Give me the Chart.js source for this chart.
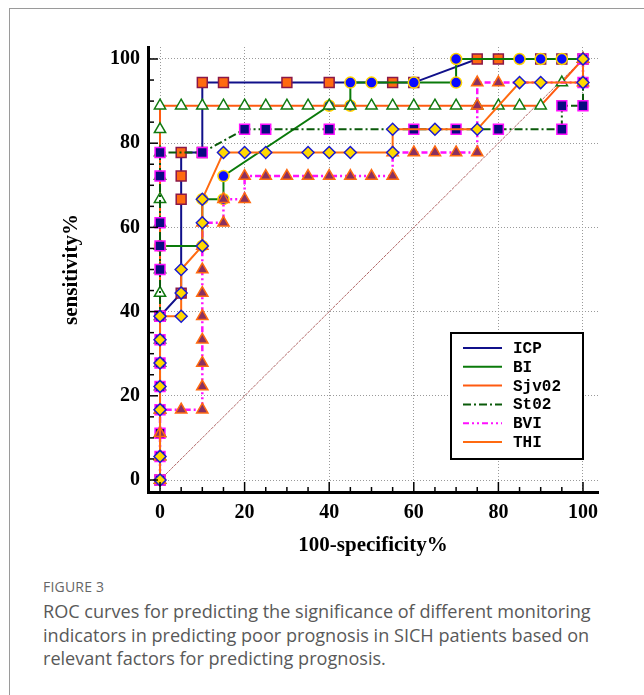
<!DOCTYPE html>
<html>
<head>
<meta charset="utf-8">
<script src="https://cdn.jsdelivr.net/npm/chart.js@4.4.0/dist/chart.umd.min.js"></script>
<style>
html, body { margin: 0; padding: 0; background: #fff; }
#card { position: absolute; left: 9px; top: 8px; width: 700px; height: 720px;
        border-left: 1px solid #9a9a9a; border-top: 1px solid #9a9a9a; }
#wrap { position: absolute; left: 0; top: 0; width: 644px; height: 570px; }
#caption { position: absolute; left: 43px; top: 578px; width: 596px;
           font-family: "Open Sans", sans-serif; color: #595959; }
#caption .fig { font-size: 14px; line-height: 18px; letter-spacing: 0.2px; color: #666; }
#caption .txt { font-size: 18.1px; line-height: 23.5px; margin-top: 4px; }
</style>
</head>
<body>
<div id="card"></div>
<div id="wrap"><canvas id="roc"></canvas></div>
<div id="caption">
  <div class="fig">FIGURE 3</div>
  <div class="txt">ROC curves for predicting the significance of different monitoring indicators in predicting poor prognosis in SICH patients based on relevant factors for predicting prognosis.</div>
</div>
<script>
// axis ticks (percent)
var xTicks = [0, 20, 40, 60, 80, 100];
var yTicks = [0, 20, 40, 60, 80, 100];
var seriesNames = ['ICP', 'BI', 'Sjv02', 'St02', 'BVI', 'THI'];

// 100-specificity (x) and sensitivity (y)
var icpX = [0, 0, 5, 5, 5, 5, 10, 10, 15, 30, 40, 55, 60, 75, 80, 90, 95, 100];
var icpY = [0, 38.9, 44.4, 66.7, 72.2, 77.8, 77.8, 94.4, 94.4, 94.4, 94.4, 94.4, 94.4, 100, 100, 100, 100, 100];

var biX = [0, 0, 10, 10, 15, 15, 40, 45, 45, 50, 60, 70, 70, 85, 90, 95, 100];
var biY = [0, 55.6, 55.6, 66.7, 66.7, 72.2, 88.9, 88.9, 94.4, 94.4, 94.4, 94.4, 100, 100, 100, 100, 100];

var sjvX = [0, 0, 0, 0, 0, 0, 0, 0, 0, 0, 0, 0, 0, 0, 0, 0, 0,
            5, 10, 15, 20, 25, 30, 35, 40, 45, 50, 55, 60, 65, 70, 75, 80, 85, 90, 95, 100];
var sjvY = [0, 5.6, 11.1, 16.7, 22.2, 27.8, 33.3, 38.9, 44.4, 50, 55.6, 61.1, 66.7, 72.2, 77.8, 83.3, 88.9,
            88.9, 88.9, 88.9, 88.9, 88.9, 88.9, 88.9, 88.9, 88.9, 88.9, 88.9, 88.9, 88.9, 88.9, 88.9, 88.9, 88.9, 88.9, 94.4, 100];

var sto2X = [0, 0, 0, 0, 0, 0, 0, 0, 0, 0, 0, 0, 0, 10, 20, 25, 40, 60, 70, 80, 95, 95, 100, 100, 100];
var sto2Y = [0, 5.6, 11.1, 16.7, 22.2, 27.8, 33.3, 38.9, 50, 55.6, 61.1, 72.2, 77.8, 77.8, 83.3, 83.3, 83.3, 83.3, 83.3, 83.3, 83.3, 88.9, 88.9, 94.4, 100];

var bviX = [0, 0, 0, 0, 5, 10, 10, 10, 10, 10, 10, 10, 10, 10, 15, 15, 20, 20, 25, 30, 35, 40, 45, 50, 55, 55, 60, 65, 70, 75, 75, 75, 80, 100, 100];
var bviY = [0, 5.6, 11.1, 16.7, 16.7, 16.7, 22.2, 27.8, 33.3, 38.9, 44.4, 50, 55.6, 61.1, 61.1, 66.7, 66.7, 72.2, 72.2, 72.2, 72.2, 72.2, 72.2, 72.2, 72.2, 77.8, 77.8, 77.8, 77.8, 77.8, 88.9, 94.4, 94.4, 94.4, 100];

var thiX = [0, 0, 0, 0, 0, 0, 0, 5, 5, 5, 10, 10, 10, 15, 20, 25, 35, 40, 45, 55, 55, 65, 75, 85, 90, 100, 100];
var thiY = [0, 5.6, 16.7, 22.2, 27.8, 33.3, 38.9, 38.9, 44.4, 50, 55.6, 61.1, 66.7, 77.8, 77.8, 77.8, 77.8, 77.8, 77.8, 77.8, 83.3, 83.3, 83.3, 94.4, 94.4, 94.4, 100];

var refX = [0, 100];
var refY = [0, 100];

function pts(xs, ys) {
  return xs.map(function (x, i) { return { x: x, y: ys[i] }; });
}

var serif = 'Liberation Serif';

var datasets = [
  { label: 'ICP', data: pts(icpX, icpY), borderColor: '#10108a', borderWidth: 2,
    pointStyle: 'rect', pointRadius: 7, pointBackgroundColor: '#ff6a10', pointBorderColor: '#8a1848', pointBorderWidth: 1.5, order: 6 },
  { label: 'BI', data: pts(biX, biY), borderColor: '#0a7a0a', borderWidth: 2,
    pointStyle: 'circle', pointRadius: 5.5, pointBackgroundColor: '#0a0aff', pointBorderColor: '#ffd400', pointBorderWidth: 1.5, order: 5 },
  { label: 'Sjv02', data: pts(sjvX, sjvY), borderColor: '#ff5a10', borderWidth: 2,
    pointStyle: 'triangle', pointRadius: 6.5, pointBackgroundColor: '#ffffff', pointBorderColor: '#107a10', pointBorderWidth: 1.5, order: 4 },
  { label: 'St02', data: pts(sto2X, sto2Y), borderColor: '#0a5a0a', borderWidth: 2, borderDash: [8, 3, 2, 3],
    pointStyle: 'rect', pointRadius: 7, pointBackgroundColor: '#0a0a80', pointBorderColor: '#ff10ff', pointBorderWidth: 1.5, order: 3 },
  { label: 'BVI', data: pts(bviX, bviY), borderColor: '#ff10ff', borderWidth: 2.5, borderDash: [6, 3, 2, 3, 2, 3],
    pointStyle: 'triangle', pointRadius: 6.5, pointBackgroundColor: '#8a3060', pointBorderColor: '#ff6a10', pointBorderWidth: 1.5, order: 2 },
  { label: 'THI', data: pts(thiX, thiY), borderColor: '#ff6a10', borderWidth: 2,
    pointStyle: 'rectRot', pointRadius: 6, pointBackgroundColor: '#ffd800', pointBorderColor: '#1a1ad0', pointBorderWidth: 1.5, order: 1 },
  { label: 'ref', data: pts(refX, refY), borderColor: '#b06666', borderWidth: 1, borderDash: [3, 1],
    pointRadius: 0, order: 7 }
];

// inward minor/major ticks and the boxed legend
var extras = {
  id: 'extras',
  afterDraw: function (chart) {
    var ctx = chart.ctx, a = chart.chartArea;
    var xs = chart.scales.x, ys = chart.scales.y;
    ctx.save();
    ctx.strokeStyle = '#000';
    ctx.lineWidth = 1.5;
    for (var v = 0; v <= 100; v += 5) {
      var major = v % 20 === 0;
      var px = xs.getPixelForValue(v);
      ctx.beginPath(); ctx.moveTo(px, a.bottom); ctx.lineTo(px, a.bottom - (major ? 10 : 5)); ctx.stroke();
      var py = ys.getPixelForValue(v);
      ctx.beginPath(); ctx.moveTo(a.left, py); ctx.lineTo(a.left + (major ? 10 : 6), py); ctx.stroke();
    }
    // legend box
    var bx = 451, by = 333, bw = 132, bh = 126;
    ctx.fillStyle = '#fff';
    ctx.fillRect(bx, by, bw, bh);
    ctx.lineWidth = 2;
    ctx.strokeRect(bx, by, bw, bh);
    ctx.font = 'bold 16px "Liberation Mono"';
    ctx.textBaseline = 'middle';
    for (var i = 0; i < seriesNames.length; i++) {
      var ds = chart.data.datasets[i];
      var ly = by + 15 + i * 18.8;
      ctx.strokeStyle = ds.borderColor;
      ctx.lineWidth = 2;
      ctx.setLineDash(ds.borderDash || []);
      ctx.beginPath(); ctx.moveTo(bx + 12, ly); ctx.lineTo(bx + 51, ly); ctx.stroke();
      ctx.setLineDash([]);
      ctx.fillStyle = '#000';
      ctx.fillText(seriesNames[i], bx + 62, ly + 1);
    }
    ctx.restore();
  }
};

var tickFont = { family: serif, weight: 'bold', size: 20 };
var titleFont = { family: serif, weight: 'bold', size: 21 };

new Chart(document.getElementById('roc'), {
  type: 'scatter',
  data: { datasets: datasets },
  options: {
    responsive: true,
    maintainAspectRatio: false,
    animation: false,
    showLine: true,
    layout: { padding: { left: 0, top: 47, right: 46, bottom: 0 } },
    elements: { line: { tension: 0, fill: false } },
    plugins: { legend: { display: false }, tooltip: { enabled: false } },
    scales: {
      x: {
        type: 'linear', min: -2.84, max: 103.55,
        afterBuildTicks: function (s) { s.ticks = xTicks.map(function (v) { return { value: v }; }); },
        afterFit: function (s) { s.height = 78; },
        grid: { color: '#9a9a9a', lineWidth: 1, drawTicks: false },
        border: { display: true, color: '#000', width: 3, dash: [1, 2] },
        ticks: { font: tickFont, color: '#000', padding: 9 },
        title: { display: true, text: '100-specificity%', font: titleFont, color: '#000', padding: { top: 0, bottom: 12 } }
      },
      y: {
        type: 'linear', min: -2.85, max: 102.85,
        afterBuildTicks: function (s) { s.ticks = yTicks.map(function (v) { return { value: v }; }); },
        afterFit: function (s) { s.width = 148; },
        grid: { color: '#9a9a9a', lineWidth: 1, drawTicks: false },
        border: { display: true, color: '#000', width: 3, dash: [1, 2] },
        ticks: { font: tickFont, color: '#000', padding: 8 },
        title: { display: true, text: 'sensitivity%', font: titleFont, color: '#000', padding: { top: 59, bottom: 0 } }
      }
    }
  },
  plugins: [extras]
});
</script>
</body>
</html>
